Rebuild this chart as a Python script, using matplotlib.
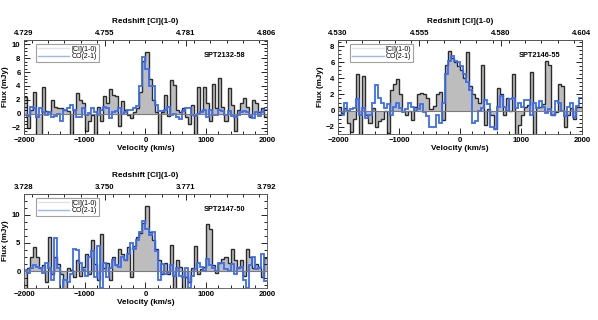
import numpy as np
import matplotlib
matplotlib.use('Agg')
import matplotlib.pyplot as plt
from matplotlib.ticker import AutoMinorLocator, MultipleLocator
from matplotlib.lines import Line2D

plt.rcParams['font.family'] = ['Liberation Sans', 'DejaVu Sans']
plt.rcParams['font.weight'] = 'bold'
plt.rcParams['font.size'] = 6

# velocity channel edges (50 km/s channels)
edges = np.arange(-2000, 2001, 50)

# ---- SPT2132-58 ----
ci_2132 = [2.4, -2.0, 0.5, 3.1, -3.5, -3.5, 3.9, 0.4, 0.2, 2.0,
           1.0, 0.8, 0.8, 0.6, 0.4, -3.5, 0.5, 3.0, 2.0, 1.5,
           -2.5, -1.0, -0.1, -3.5, 1.0, -1.0, 2.5, 1.5, 3.5, 2.7,
           2.5, -1.8, 1.8, 0.5, -0.1, -0.6, 0.3, 0.8, 3.2, 7.6,
           8.9, 5.0, 2.0, 0.3, -3.5, 0.3, 2.7, -0.3, 4.8, 4.2,
           0.5, 0.3, 0.8, -0.5, -1.5, 1.2, -3.5, 3.9, 0.4, 3.8,
           1.5, -1.0, 4.3, 0.8, 5.2, 1.0, -1.0, 3.7, 1.2, -2.5,
           0.5, 1.5, 2.2, 1.0, -0.5, 2.0, 1.5, 0.2, 0.8, -0.4]
co_2132 = [-0.2, -0.3, 1.0, 0.9, -0.5, 0.9, 0.2, -0.1, 0.3, -0.4,
           -0.3, 0.0, -1.0, 0.5, 0.8, 1.3, 0.5, -0.4, -0.5, 0.8,
           -0.2, 0.1, 0.8, 0.2, -0.1, 0.5, 1.0, 0.9, -0.6, 0.3,
           0.4, 0.9, 0.0, 0.3, 0.6, 0.6, 0.8, 1.1, 4.0, 8.1,
           6.5, 4.0, 4.0, 1.3, 0.4, 0.4, 0.5, 1.0, -0.2, 0.0,
           -0.4, -0.7, 0.4, 0.9, 0.9, -0.2, -0.3, 0.0, 0.2, 0.6,
           -0.4, 0.6, -0.1, -0.2, 0.5, 0.4, -0.1, 0.4, -0.3, -0.4,
           -0.2, 0.2, 0.4, 0.2, -0.3, -0.6, 0.3, -0.3, 0.3, 0.6]

# ---- SPT2146-55 ----
ci_2146 = [0.5, -0.3, 0.3, -1.5, -2.6, -1.0, 4.5, -3.5, 4.3, -0.5,
           -1.5, 0.3, -2.0, -1.3, -1.0, 0.0, -2.8, 2.5, 3.3, 3.9,
           2.0, 0.0, -0.6, 0.0, -1.2, 0.5, 2.0, 2.2, 2.0, 1.5,
           0.2, 0.6, 2.0, 2.3, -1.2, 5.6, 7.4, 6.5, 6.0, 5.5,
           5.0, 4.0, 7.3, 3.0, 2.0, 1.5, 1.0, 5.6, -1.8, 0.2,
           -0.5, -2.3, 2.8, 2.0, -0.5, 1.5, 0.0, 4.5, -3.5, -1.8,
           -0.5, 0.5, 0.7, 4.8, -3.0, 0.5, 0.5, 0.8, 6.1, 5.6,
           -0.6, -0.2, 3.3, 3.1, -2.0, -0.6, 0.3, -1.0, 0.5, 0.5]
co_2146 = [-0.6, -0.5, 1.0, 0.0, 0.2, 0.3, 1.4, -0.5, 0.3, -0.9,
           -0.5, 0.9, 3.2, 1.5, 1.0, 0.3, 0.8, -0.5, 0.5, 1.0,
           0.3, -0.2, 0.2, 1.0, 0.5, 0.0, 0.2, 0.8, -0.2, -0.7,
           -2.0, -2.0, -0.5, -1.5, 1.0, 4.5, 6.2, 6.8, 6.2, 6.0,
           5.5, 4.5, 3.5, 2.5, -1.5, -1.3, 0.0, 0.3, 1.3, 0.8,
           -2.0, -2.3, 0.4, 1.8, 0.5, 0.0, 1.4, 1.5, 0.3, 1.0,
           0.5, 1.3, 1.3, -0.5, 1.0, 0.3, 1.2, 0.5, -0.3, 0.2,
           -0.6, 1.2, 1.0, 0.0, -0.7, 0.4, 1.0, -0.8, 0.6, 1.5]

# ---- SPT2147-50 ----
ci_2147 = [-3.5, 0.5, 2.5, 4.2, 2.5, 0.5, 1.0, -2.0, 6.0, -0.5,
           2.5, 1.2, -0.5, -3.5, 0.5, 0.2, -1.0, 2.0, -0.8, 0.8,
           3.0, -0.6, 5.6, 1.2, -1.5, 6.6, 0.5, 1.5, -1.5, 2.5,
           1.0, 4.0, 3.0, 2.0, 4.3, -1.0, 4.5, 6.0, 6.7, 8.5,
           11.5, 7.0, 5.5, 4.0, 2.0, -0.5, 1.5, -0.5, 4.7, -3.5,
           2.0, 0.8, -3.5, -1.0, -2.0, 0.5, 4.5, -0.5, 0.3, 0.8,
           8.3, 7.5, 1.0, -0.3, 1.5, 2.2, 2.5, 1.5, 4.0, 2.0,
           0.5, 2.0, -0.8, 4.0, 2.5, 0.5, 1.2, 0.8, -1.0, 2.3]
co_2147 = [0.2, -0.3, 0.5, 1.0, 0.8, 0.5, -0.3, 1.5, 0.5, -1.5,
           5.9, 0.5, -3.2, -1.5, -2.0, -0.5, 3.9, 3.8, 1.5, 0.2,
           -0.8, 2.5, 3.5, -1.0, 4.5, -3.0, 1.5, -1.0, 0.5, 2.0,
           1.0, 0.8, 2.5, 2.0, 3.0, 5.0, 4.0, 5.5, 7.0, 8.9,
           7.5, 6.5, 7.0, 3.5, -1.5, 1.2, -0.5, -0.2, 1.0, -0.8,
           0.5, -0.8, -1.0, 0.5, -3.0, -0.8, 0.3, 1.5, 0.8, 0.0,
           2.1, 1.0, 0.5, 0.0, 1.5, 1.5, 0.3, 0.0, 1.2, -0.5,
           0.5, 0.8, -1.5, -3.0, 1.0, 2.5, 0.3, 0.5, 3.0, -1.8]

names = ['SPT2132-58', 'SPT2146-55', 'SPT2147-50']
z_labels = [['4.729', '4.755', '4.781', '4.806'],
            ['4.530', '4.555', '4.580', '4.604'],
            ['3.728', '3.750', '3.771', '3.792']]
ylims = [(-2.9, 10.6), (-2.9, 8.75), (-3.0, 13.7)]
ymajor = [2, 2, 5]

fig = plt.figure(figsize=(5.98, 3.2), dpi=100)
rects = [[0.0401, 0.58125, 0.4064, 0.29375],
         [0.5652, 0.58125, 0.4080, 0.29375],
         [0.0401, 0.10, 0.4064, 0.29375]]
ci_all = [ci_2132, ci_2146, ci_2147]
co_all = [co_2132, co_2146, co_2147]
ylab_x = [-0.06, -0.057, -0.06]

for k in range(3):
    ax = fig.add_axes(rects[k])
    ax.stairs(ci_all[k], edges, baseline=0, fill=True, color='#bdbdbd', lw=0)
    ax.stairs(ci_all[k], edges, baseline=None, color='#2b2b2b', lw=1.0)
    ax.axhline(0, color='#7a7a7a', lw=0.8)
    ax.stairs(co_all[k], edges, baseline=None, color='#3b6cf2', lw=1.3)

    ax.set_xlim(-2000, 2000)
    ax.set_ylim(*ylims[k])
    ax.xaxis.set_major_locator(MultipleLocator(1000))
    ax.xaxis.set_minor_locator(AutoMinorLocator(5))
    ax.yaxis.set_major_locator(MultipleLocator(ymajor[k]))
    ax.yaxis.set_minor_locator(AutoMinorLocator(4))
    ax.tick_params(which='both', direction='in', top=False, right=True,
                   labelsize=5.6, width=0.6, pad=2.5)
    ax.tick_params(which='major', length=4)
    ax.tick_params(which='minor', length=2)
    ax.set_xlabel('Velocity (km/s)', fontsize=5.9, fontweight='bold', labelpad=0.5)
    ax.set_ylabel('Flux (mJy)', fontsize=5.9, fontweight='bold')
    ax.yaxis.set_label_coords(ylab_x[k], 0.5)
    for s in ax.spines.values():
        s.set_linewidth(0.6)
        s.set_color('#555555')

    # top axis in redshift
    sec = ax.secondary_xaxis('top')
    sec.set_xticks(np.linspace(-2000, 2000, 4))
    sec.set_xticklabels(z_labels[k])
    sec.xaxis.set_minor_locator(MultipleLocator(4000 / 15))
    sec.tick_params(which='both', direction='in', labelsize=5.6, width=0.6, pad=2.5)
    sec.tick_params(which='major', length=4)
    sec.tick_params(which='minor', length=2)
    sec.set_xlabel('Redshift [CI](1-0)', fontsize=5.9, fontweight='bold', labelpad=5)
    sec.spines['top'].set_linewidth(0.6)
    sec.spines['top'].set_color('#555555')

    ax.text(0.74, 0.84, names[k], transform=ax.transAxes, fontsize=5.3,
            fontweight='bold', ha='left', va='center')

    handles = [Line2D([], [], color='#e3e3e3', lw=1.0),
               Line2D([], [], color='#9fb6f2', lw=1.0)]
    leg = ax.legend(handles, ['[CI](1-0)', 'CO(2-1)'], loc='upper left',
                    bbox_to_anchor=(0.05, 0.96), fontsize=5, frameon=True,
                    fancybox=False, handlelength=4.5, handletextpad=0.3,
                    borderpad=0.3, labelspacing=0.05, borderaxespad=0)
    leg.get_frame().set_edgecolor('#888888')
    leg.get_frame().set_linewidth(0.8)
    for t in leg.get_texts():
        t.set_fontweight('normal')

fig.savefig('out.png', dpi=100)
